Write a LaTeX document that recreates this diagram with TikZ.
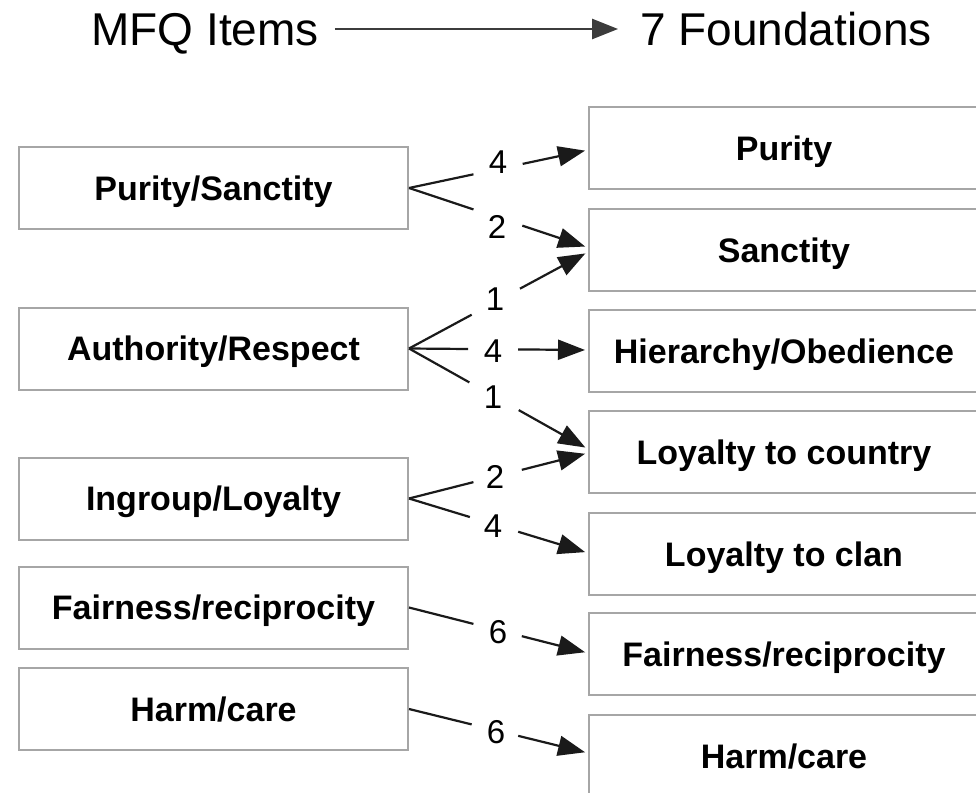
\documentclass[tikz,border=0pt]{standalone}
\usepackage{fontspec}
\setmainfont{Liberation Sans}
\usetikzlibrary{arrows.meta,calc}
\definecolor{boxgray}{HTML}{A6A6A6}
\definecolor{linedark}{HTML}{1A1A1A}
\tikzset{
  itembox/.style={draw=boxgray, line width=2pt, minimum width=389pt, minimum height=82pt,
    inner sep=0pt, text height=24pt, text depth=0pt,
    font=\fontsize{34}{40}\selectfont\bfseries},
  foundbox/.style={itembox, minimum width=390pt},
  numlbl/.style={inner sep=0pt, text height=23.5pt, text depth=0pt,
    font=\fontsize{33}{38}\selectfont},
  titletext/.style={inner sep=0pt, text height=33pt, text depth=0pt,
    font=\fontsize{46}{52}\selectfont},
  conn/.style={line width=2.2pt, draw=linedark},
  arr/.style={conn, -{Triangle[length=27pt,width=20pt]}, shorten >=3pt},
  titlearr/.style={line width=2.5pt, draw=linedark!85, -{Triangle[length=26pt,width=20pt]}}
}
\begin{document}
\begin{tikzpicture}[x=1pt,y=-1pt]
\useasboundingbox (0,0) rectangle (976,792);
\clip (0,0) rectangle (976,792);
\fill[white] (0,0) rectangle (976,792);

% title
\node[titletext] (mfq) at (205,29) {MFQ Items};
\node[titletext] (fd) at (786,29) {7 Foundations};
\draw[titlearr, shorten <=16pt, shorten >=22pt] (mfq.east) -- (fd.west);

% MFQ items
\node[itembox] (ps) at (213.5,188) {Purity/Sanctity};
\node[itembox] (au) at (213.5,348.5) {Authority/Respect};
\node[itembox] (in) at (213.5,498.5) {Ingroup/Loyalty};
\node[itembox] (fa) at (213.5,607.5) {Fairness/reciprocity};
\node[itembox] (ha) at (213.5,709) {Harm/care};

% foundations
\node[foundbox] (pu) at (784,148) {Purity};
\node[foundbox] (sa) at (784,250) {Sanctity};
\node[foundbox] (hi) at (784,351) {Hierarchy/Obedience};
\node[foundbox] (lc) at (784,452) {Loyalty to country};
\node[foundbox] (cl) at (784,554) {Loyalty to clan};
\node[foundbox] (fr) at (784,654) {Fairness/reciprocity};
\node[foundbox] (hc) at (784,756) {Harm/care};

% connectors
\foreach \s/\t/\dy/\lx/\ly/\txt/\pa/\pb in {
  ps/pu/2/498/162/4/0.36/0.635,
  ps/sa/-2.5/497/227/2/0.36/0.633,
  au/sa/2/495/299/1/0.35/0.62,
  au/hi/-1/493/351/4/0.33/0.61,
  au/lc/-3/493/397/1/0.337/0.613,
  in/lc/1/495/477/2/0.36/0.63,
  in/cl/-1/493/526/4/0.34/0.61,
  fa/fr/-1/498/632/6/0.36/0.63,
  ha/hc/-3/496/732/6/0.35/0.61}
{
  \coordinate (end-\s-\t) at ($(\t.west)+(0,\dy)$);
  \path (\s.east) -- (end-\s-\t)
     coordinate[pos=\pa] (ga-\s-\t) coordinate[pos=\pb] (gb-\s-\t);
  \draw[conn] (\s.east) -- (ga-\s-\t);
  \draw[arr] (gb-\s-\t) -- (end-\s-\t);
  \node[numlbl] (n-\s-\t) at (\lx,\ly) {\txt};
}
\end{tikzpicture}
\end{document}
